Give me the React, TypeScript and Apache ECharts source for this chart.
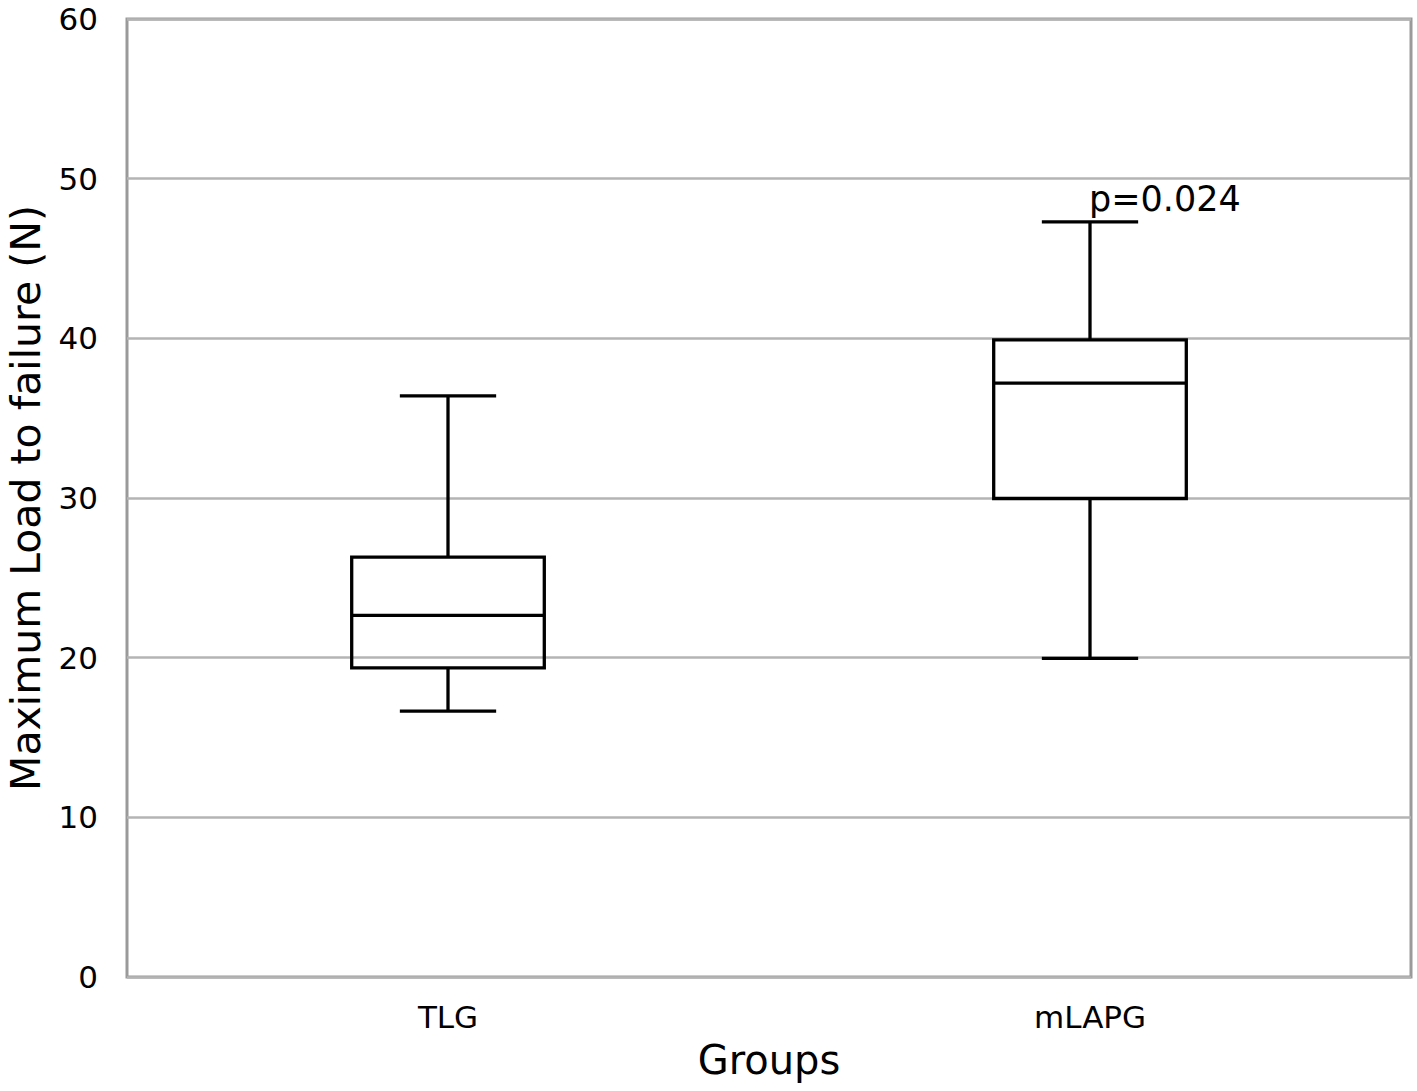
import React, { useEffect, useRef } from "react";
import * as echarts from "echarts";

const categories = ["TLG", "mLAPG"];
const lowerWhisker = [16.65, 19.96];
const q1 = [19.36, 29.97];
const median = [22.65, 37.2];
const q3 = [26.3, 39.9];
const upperWhisker = [36.4, 47.3];
const annotations = ["", "p=0.024"];
const yTicks = { min: 0, max: 60, interval: 10 };

const FONT = "'DejaVu Sans', Verdana, sans-serif";

export default function App() {
  const ref = useRef<HTMLDivElement>(null);

  useEffect(() => {
    if (!ref.current) return;
    const chart = echarts.init(ref.current, null, { renderer: "svg" });
    const data = categories.map((_, i) => [
      i,
      lowerWhisker[i],
      q1[i],
      median[i],
      q3[i],
      upperWhisker[i],
    ]);

    chart.setOption({
      animation: false,
      backgroundColor: "#ffffff",
      grid: {
        left: 127,
        right: 6,
        top: 19,
        bottom: 114,
        show: true,
        outerBoundsMode: "none",
        containLabel: false,
        borderColor: "#9a9a9a",
        borderWidth: 3,
        backgroundColor: "transparent",
      },
      xAxis: {
        type: "category",
        data: categories,
        name: "Groups",
        nameLocation: "middle",
        nameGap: 63,
        nameTextStyle: { fontSize: 40, color: "#000", fontFamily: FONT },
        axisLine: { show: false },
        axisTick: { show: false },
        axisLabel: { fontSize: 31, color: "#000", fontFamily: FONT, margin: 24 },
        splitLine: { show: false },
      },
      yAxis: {
        type: "value",
        min: yTicks.min,
        max: yTicks.max,
        interval: yTicks.interval,
        name: "Maximum Load to failure (N)",
        nameLocation: "middle",
        nameGap: 81,
        nameTextStyle: { fontSize: 41, color: "#000", fontFamily: FONT },
        axisLine: { show: false },
        axisTick: { show: false },
        axisLabel: { fontSize: 31, color: "#000", fontFamily: FONT, margin: 29 },
        splitLine: { show: true, lineStyle: { color: "#b4b4b4", width: 2.5 } },
      },
      series: [
        {
          type: "custom",
          data,
          encode: { x: 0, y: [1, 2, 3, 4, 5] },
          renderItem: (params: any, api: any) => {
            const idx = api.value(0);
            const xc = api.coord([idx, 0])[0];
            const bw = api.size([1, 0])[0] * 0.3;
            const y = (v: number) => api.coord([idx, v])[1];
            const yLo = y(api.value(1));
            const yQ1 = y(api.value(2));
            const yMed = y(api.value(3));
            const yQ3 = y(api.value(4));
            const yHi = y(api.value(5));
            const stroke = { stroke: "#000", lineWidth: 3.3, fill: "none" };
            const children: any[] = [
              {
                type: "line",
                shape: { x1: xc, y1: yQ3, x2: xc, y2: yHi },
                style: stroke,
              },
              {
                type: "line",
                shape: { x1: xc, y1: yQ1, x2: xc, y2: yLo },
                style: stroke,
              },
              {
                type: "line",
                shape: { x1: xc - bw / 4, y1: yHi, x2: xc + bw / 4, y2: yHi },
                style: stroke,
              },
              {
                type: "line",
                shape: { x1: xc - bw / 4, y1: yLo, x2: xc + bw / 4, y2: yLo },
                style: stroke,
              },
              {
                type: "rect",
                shape: { x: xc - bw / 2, y: yQ3, width: bw, height: yQ1 - yQ3 },
                style: stroke,
              },
              {
                type: "line",
                shape: { x1: xc - bw / 2, y1: yMed, x2: xc + bw / 2, y2: yMed },
                style: stroke,
              },
            ];
            const ann = annotations[params.dataIndex];
            if (ann) {
              children.push({
                type: "text",
                x: xc - 1,
                y: yHi - 23,
                style: {
                  text: ann,
                  fill: "#000",
                  fontSize: 35,
                  fontFamily: FONT,
                  align: "left",
                  verticalAlign: "middle",
                },
              });
            }
            return { type: "group", children };
          },
        },
      ],
    });

    return () => chart.dispose();
  }, []);

  return (
    <div
      ref={ref}
      style={{
        position: "fixed",
        left: 0,
        top: 0,
        width: 1417,
        height: 1091,
        background: "#fff",
      }}
    />
  );
}
